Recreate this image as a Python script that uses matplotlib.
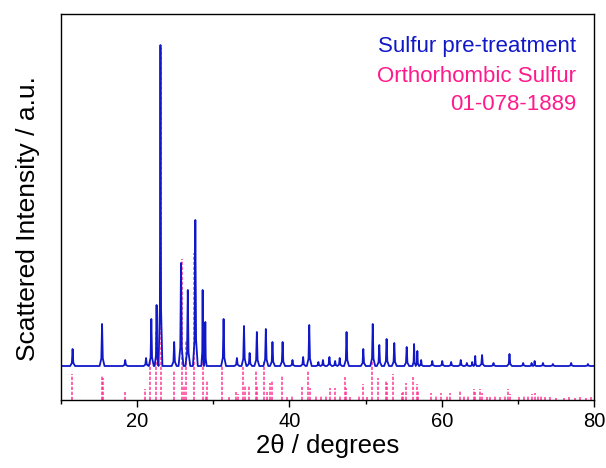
import matplotlib

matplotlib.use("Agg")
import matplotlib.pyplot as plt
from matplotlib.ticker import MultipleLocator

plt.rcParams["font.family"] = ["Liberation Sans", "DejaVu Sans"]

PEAK_2THETA = [
    11.52, 15.39, 18.43, 21.17, 21.86, 22.55, 23.06, 24.86, 25.76, 26.65,
    27.64, 28.60, 28.95, 31.35, 33.10, 34.03, 34.77, 35.72, 36.90, 37.77,
    39.10, 40.40, 41.80, 42.60, 43.80, 44.40, 45.25, 46.00, 46.60, 47.50,
    49.70, 50.94, 51.80, 52.76, 53.77, 55.40, 56.37, 56.80, 57.30, 58.76,
    60.07, 61.24, 62.50, 63.30, 64.00, 64.40, 65.30, 66.80, 68.90, 70.70,
    71.80, 72.20, 73.30, 74.60, 77.00, 79.20,
]
PEAK_INTENSITY = [
    51, 76, 40, 42, 81, 95, 355, 58, 137, 110,
    180, 110, 78, 81, 42, 74, 47, 68, 71, 58,
    58, 40, 43, 75, 38, 40, 43, 39, 42, 68,
    51, 76, 55, 61, 57, 53, 56, 49, 40, 39,
    39, 38, 40, 37, 38, 44, 45, 37, 46, 37,
    37, 39, 37, 36, 37, 36,
]
BASELINE = 34.0

# reference card, orthorhombic sulfur 01-078-1889
REF_2THETA = [
    11.43, 15.35, 15.45, 18.35, 21.08, 21.65, 22.47, 23.07, 24.78, 25.83,
    26.17, 26.47, 27.50, 28.62, 29.00, 29.20, 31.16, 32.00, 33.00, 33.20,
    33.90, 34.10, 34.65, 35.60, 35.80, 36.70, 37.00, 37.50, 37.70, 39.00,
    39.70, 40.40, 41.70, 42.45, 42.70, 43.55, 44.20, 44.77, 45.30, 45.95,
    46.70, 47.33, 47.45, 47.90, 49.20, 49.60, 50.20, 50.80, 51.60, 52.67,
    52.80, 53.55, 54.72, 54.90, 55.37, 56.24, 56.70, 56.90, 58.55, 59.30,
    59.84, 60.70, 61.10, 62.40, 62.90, 63.40, 64.20, 64.35, 65.06, 65.30,
    65.90, 66.40, 67.00, 67.70, 68.30, 68.76, 69.00, 70.20, 70.80, 71.30,
    71.80, 72.20, 72.60, 73.00, 73.50, 74.20, 75.00, 76.00, 76.70, 77.50,
    78.20, 79.00, 79.60,
]
REF_INTENSITY = [
    26, 25, 22, 8, 11, 40, 70, 352, 29, 141,
    14, 60, 147, 53, 5, 20, 35, 3, 8, 6,
    33, 14, 14, 30, 14, 38, 8, 17, 20, 25,
    3, 5, 13, 30, 12, 4, 4, 5, 12, 12,
    5, 23, 12, 3, 5, 16, 3, 38, 22, 20,
    17, 26, 7, 8, 17, 23, 16, 9, 7, 5,
    7, 4, 7, 9, 4, 5, 11, 8, 11, 7,
    3, 3, 4, 3, 4, 11, 6, 3, 4, 5,
    6, 7, 5, 4, 3, 3, 2, 2, 3, 2,
    3, 2, 3,
]

BLUE = "#1018c8"
PINK = "#ff1a8c"


def _pattern(pos: list[float], heights: list[float], base: float,
             half_width: float = 0.32) -> tuple[list[float], list[float]]:
    # polyline through each apex with a narrow tip and a wider skirt
    xs, ys = [10.0], [base]
    for i, (p, h) in enumerate(zip(pos, heights)):
        gaps = [half_width]
        if i > 0:
            gaps.append((p - pos[i - 1]) / 2)
        if i < len(pos) - 1:
            gaps.append((pos[i + 1] - p) / 2)
        w = min(gaps)
        skirt = base + 0.18 * (h - base)
        xs += [p - w, p - 0.3 * w, p, p + 0.3 * w, p + w]
        ys += [base, skirt, h, skirt, base]
    xs.append(80.0)
    ys.append(base)
    return xs, ys


fig = plt.figure(figsize=(6.06, 4.68), dpi=100)
ax = fig.add_axes((0.1007, 0.1453, 0.8795, 0.8247))

ax.vlines(REF_2THETA, 0, REF_INTENSITY, colors="#ff2a8f", linewidth=1.2,
          linestyles=(0, (2, 1)), alpha=0.85)
px, py = _pattern(PEAK_2THETA, PEAK_INTENSITY, BASELINE)
ax.plot(px, py, color=BLUE, linewidth=1.3)

ax.set_xlim(10, 80)
ax.set_ylim(0, 386)
ax.xaxis.set_major_locator(MultipleLocator(20))
ax.xaxis.set_minor_locator(MultipleLocator(10))
ax.tick_params(axis="x", which="major", direction="out", length=5, width=1,
               labelsize=14.5, pad=4)
ax.tick_params(axis="x", which="minor", direction="out", length=3, width=1)
ax.set_yticks([])
for spine in ax.spines.values():
    spine.set_linewidth(1.0)

ax.set_xlabel("2θ / degrees", fontsize=18.5, labelpad=2)
ax.set_ylabel("Scattered Intensity / a.u.", fontsize=19)
ax.yaxis.set_label_coords(-0.039, 0.47)

ax.text(0.966, 0.915, "Sulfur pre-treatment", transform=ax.transAxes,
        ha="right", va="center", color=BLUE, fontsize=16)
ax.text(0.966, 0.837, "Orthorhombic Sulfur", transform=ax.transAxes,
        ha="right", va="center", color=PINK, fontsize=16)
ax.text(0.966, 0.765, "01-078-1889", transform=ax.transAxes,
        ha="right", va="center", color=PINK, fontsize=16)

fig.savefig("out.png", dpi=100)
